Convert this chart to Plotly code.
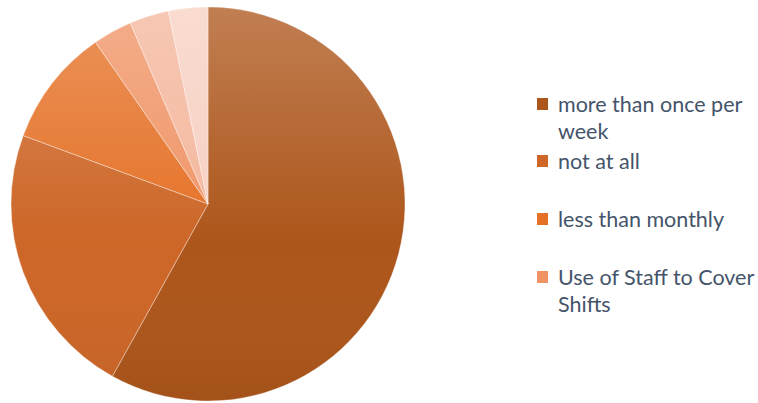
import base64
import plotly.graph_objects as go

# Survey responses (counts)
labels = ["more than once per week", "not at all", "less than monthly",
          "Use of Staff to Cover Shifts", "monthly", "once per week"]
counts = [18, 7, 3, 1, 1, 1]
colors = ["#AD561B", "#CD6627", "#E57127", "#F09466", "#F4B69C", "#F7D0C2"]

# legend text as it wraps in the side panel
legend_lines = [["more than once per", "week"], ["not at all"],
                ["less than monthly"], ["Use of Staff to Cover", "Shifts"]]

W, H = 758, 403
cx, cy, r = 208, 204, 197

fig = go.Figure(go.Pie(
    labels=labels, values=counts, sort=False, direction="clockwise",
    rotation=0, textinfo="none", hoverinfo="label+value+percent",
    marker=dict(colors=colors, line=dict(color="rgba(255,255,255,0.45)", width=0.8)),
    domain=dict(x=[(cx - r) / W, (cx + r) / W],
                y=[(H - cy - r) / H, (H - cy + r) / H]),
    showlegend=False,
))

# soft vertical shading over the disc (lighter top, slightly darker bottom)
shade_svg = f"""<svg xmlns='http://www.w3.org/2000/svg' width='{W}' height='{H}' viewBox='0 0 {W} {H}'>
<defs><linearGradient id='g' x1='0' y1='0' x2='0' y2='1'>
<stop offset='0' stop-color='white' stop-opacity='0.24'/>
<stop offset='0.6' stop-color='white' stop-opacity='0'/>
<stop offset='1' stop-color='black' stop-opacity='0.05'/>
</linearGradient></defs>
<circle cx='{cx}' cy='{cy}' r='{r}' fill='url(#g)'/></svg>"""
shade_uri = "data:image/svg+xml;base64," + base64.b64encode(shade_svg.encode()).decode()

# side legend: colour swatch + wrapped label per entry
entry_top = [104, 161, 219, 277]
line_gap = 26.5
shapes, annots = [], []
for i, lines in enumerate(legend_lines):
    yc = entry_top[i]
    shapes.append(dict(type="rect", xref="paper", yref="paper",
                       x0=537 / W, x1=548 / W, y0=1 - (yc + 6) / H, y1=1 - (yc - 6) / H,
                       fillcolor=colors[i], line=dict(width=0)))
    for j, txt in enumerate(lines):
        annots.append(dict(text=txt, xref="paper", yref="paper",
                           x=556 / W, y=1 - (yc + j * line_gap) / H,
                           xanchor="left", yanchor="middle", showarrow=False,
                           font=dict(family="Lato", size=21.5, color="#44546A")))

fig.update_layout(width=W, height=H, margin=dict(l=0, r=0, t=0, b=0),
                  paper_bgcolor="white", plot_bgcolor="white",
                  shapes=shapes, annotations=annots,
                  images=[dict(source=shade_uri, xref="paper", yref="paper",
                               x=0, y=1, sizex=1, sizey=1, sizing="stretch",
                               xanchor="left", yanchor="top", layer="above")])

fig.write_html("out.html")
